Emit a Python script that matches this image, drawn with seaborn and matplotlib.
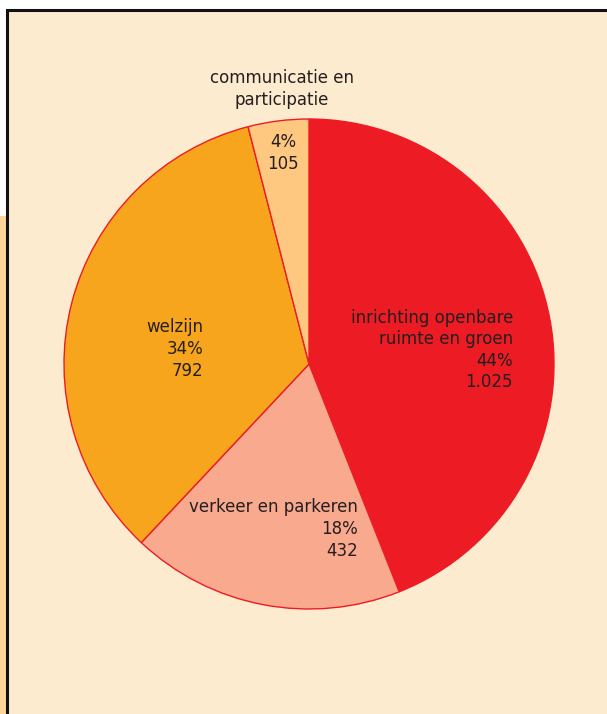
import matplotlib
matplotlib.use("Agg")
import matplotlib.pyplot as plt
import seaborn as sns
from matplotlib.patches import Rectangle

sns.set_theme(style="white")
plt.rcParams['font.family'] = ['DejaVu Sans']

# data
categories = ["inrichting openbare\nruimte en groen", "verkeer en parkeren", "welzijn", "communicatie en\nparticipatie"]
shares = [44, 18, 34, 4]
percents = ["44%", "18%", "34%", "4%"]
value_labels = ["1.025", "432", "792", "105"]
colors = ["#ED1C24", "#F9A98E", "#F7A51C", "#FFC880"]

W, H = 607, 714
fig = plt.figure(figsize=(W / 100, H / 100), dpi=100)
fig.patch.set_facecolor("white")

# background axes in pixel coords
bg = fig.add_axes([0, 0, 1, 1])
bg.set_xlim(0, W)
bg.set_ylim(H, 0)
bg.axis("off")
bg.add_patch(Rectangle((0, 216), 7, H - 216, facecolor="#FFD59A", edgecolor="none"))
bg.add_patch(Rectangle((7, 10), W + 20, H + 20, facecolor="#FDEBD0", edgecolor="#111111", linewidth=2.2))

# pie axes
cx, cy, r = 309, 364, 245
ax = fig.add_axes([(cx - r) / W, (H - cy - r) / H, 2 * r / W, 2 * r / H])
ax.set_facecolor("none")
wedges, _ = ax.pie(shares, colors=colors, startangle=90, counterclock=False,
                   wedgeprops=dict(edgecolor="#ED1C24", linewidth=1.0))
ax.set_xlim(-1, 1)
ax.set_ylim(-1, 1)
ax.set_aspect("equal")
ax.axis("off")

tc = "#231F20"
fs = 12
kw = dict(color=tc, fontsize=fs, linespacing=1.25)

def px(x, y):
    return (x - cx) / r, (cy - y) / r

x, y = px(513, 350)
ax.text(x, y, f"{categories[0]}\n{percents[0]}\n{value_labels[0]}", ha="right", va="center",
        multialignment="right", **kw)
x, y = px(358, 529)
ax.text(x, y, f"{categories[1]}\n{percents[1]}\n{value_labels[1]}", ha="right", va="center",
        multialignment="right", **kw)
x, y = px(203, 349)
ax.text(x, y, f"{categories[2]}\n{percents[2]}\n{value_labels[2]}", ha="right", va="center",
        multialignment="right", **kw)
x, y = px(283, 153)
ax.text(x, y, f"{percents[3]}\n{value_labels[3]}", ha="center", va="center",
        multialignment="center", **kw)
x, y = px(282, 89)
ax.text(x, y, categories[3], ha="center", va="center", multialignment="center", **kw)

fig.savefig("out.png", dpi=100, facecolor=fig.get_facecolor())
